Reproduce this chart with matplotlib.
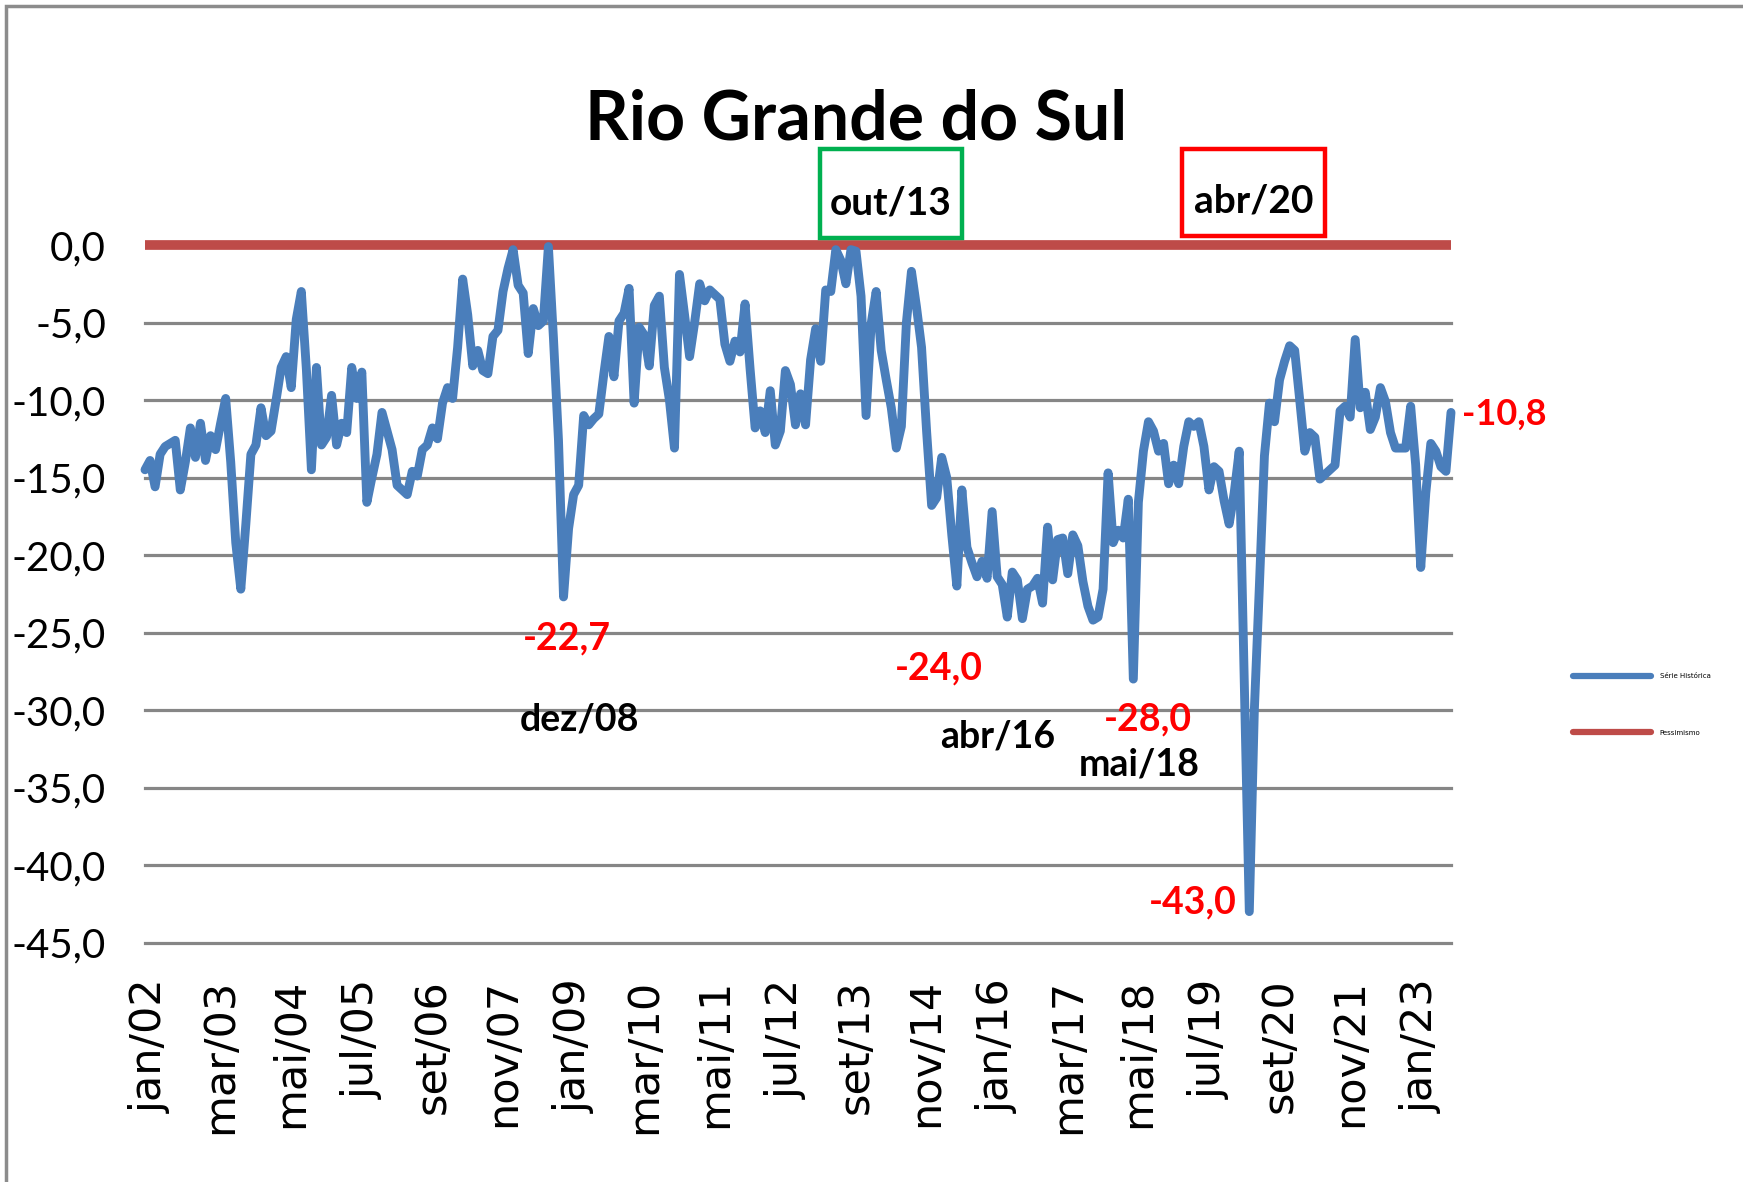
import matplotlib
matplotlib.use("Agg")
import matplotlib.pyplot as plt
import matplotlib.transforms as mtransforms
from matplotlib.patches import Rectangle
from matplotlib.lines import Line2D

# ---------------- data ----------------
serie_historica = [
    -14.5, -13.9, -15.6, -13.5, -13.0, -12.8, -12.6, -15.8, -14.0, -11.8,
    -13.7, -11.5, -13.9, -12.3, -13.2, -11.5, -9.9, -14.0, -19.2, -22.2,
    -18.0, -13.5, -12.9, -10.5, -12.3, -12.0, -10.0, -7.9, -7.2, -9.2,
    -4.8, -3.0, -8.0, -14.5, -7.9, -12.9, -12.4, -9.7, -12.9, -11.5,
    -12.1, -7.9, -9.9, -8.2, -16.6, -15.0, -13.5, -10.8, -12.0, -13.2,
    -15.5, -15.8, -16.1, -14.6, -14.9, -13.2, -12.9, -11.8, -12.5, -10.2,
    -9.2, -9.9, -6.6, -2.2, -4.5, -7.8, -6.8, -8.1, -8.3, -5.9,
    -5.5, -3.0, -1.5, -0.3, -2.6, -3.1, -7.0, -4.1, -5.2, -4.9,
    -0.1, -6.0, -12.6, -22.7, -18.3, -16.1, -15.5, -11.0, -11.6, -11.2,
    -10.9, -8.3, -5.9, -8.5, -4.9, -4.4, -2.8, -10.2, -5.3, -5.8,
    -7.8, -3.9, -3.3, -7.9, -10.0, -13.1, -1.9, -4.5, -7.2, -5.0,
    -2.5, -3.6, -2.9, -3.2, -3.5, -6.4, -7.5, -6.2, -6.9, -3.8,
    -8.0, -11.8, -10.7, -12.1, -9.4, -12.9, -12.0, -8.1, -9.0, -11.6,
    -9.6, -11.6, -7.4, -5.4, -7.5, -2.9, -3.0, -0.3, -1.0, -2.5,
    -0.3, -0.4, -3.3, -11.0, -5.1, -3.0, -6.8, -8.7, -10.5, -13.1,
    -11.7, -5.0, -1.7, -4.0, -6.6, -12.0, -16.8, -16.3, -13.7, -15.0,
    -18.7, -22.0, -15.8, -19.5, -20.5, -21.4, -20.4, -21.5, -17.2, -21.4,
    -21.9, -24.0, -21.1, -21.6, -24.1, -22.2, -22.0, -21.5, -23.1, -18.2,
    -21.6, -19.0, -18.9, -21.2, -18.7, -19.4, -21.7, -23.3, -24.2, -24.0,
    -22.2, -14.7, -19.2, -18.4, -18.9, -16.4, -28.0, -16.6, -13.3, -11.4,
    -12.0, -13.3, -12.8, -15.4, -14.2, -15.4, -13.0, -11.4, -11.7, -11.4,
    -13.0, -15.8, -14.3, -14.6, -16.5, -18.0, -16.0, -13.3, -28.0, -43.0,
    -30.0, -22.0, -13.6, -10.2, -11.4, -8.7, -7.5, -6.5, -6.8, -10.0,
    -13.3, -12.1, -12.4, -15.1, -14.8, -14.5, -14.2, -10.7, -10.4, -11.1,
    -6.1, -10.5, -9.5, -11.9, -11.1, -9.2, -10.1, -12.1, -13.1, -13.1,
    -13.1, -10.4, -14.2, -20.8, -16.0, -12.8, -13.3, -14.3, -14.6, -10.8,
]
pessimismo = [0.0] * len(serie_historica)

tick_labels = ["jan/02", "mar/03", "mai/04", "jul/05", "set/06", "nov/07",
               "jan/09", "mar/10", "mai/11", "jul/12", "set/13", "nov/14",
               "jan/16", "mar/17", "mai/18", "jul/19", "set/20", "nov/21",
               "jan/23"]
tick_step = 14
y_ticks = [0, -5, -10, -15, -20, -25, -30, -35, -40, -45]

# annotations: (text, month index, value at baseline, colour, size)
notes = [("-22,7", 83.7, -26.1, "#FF0000", 27),
         ("dez/08", 86.1, -31.3, "black", 27),
         ("-24,0", 157.4, -28.0, "#FF0000", 27),
         ("abr/16", 169.1, -32.4, "black", 27),
         ("-28,0", 198.9, -31.3, "#FF0000", 27),
         ("mai/18", 197.1, -34.2, "black", 27),
         ("-43,0", 207.8, -43.1, "#FF0000", 27),
         ("-10,8", 269.5, -11.6, "#FF0000", 26)]

FONT = ["Lato", "DejaVu Sans"]

# ---------------- figure ----------------
fig = plt.figure(figsize=(17.43, 11.82), dpi=100)
fig.patch.set_facecolor("white")

ax = fig.add_axes([145 / 1743, 1 - 942.6 / 1182, (1451 - 145) / 1743, (942.6 - 245) / 1182])
ax.set_facecolor("white")

x = list(range(len(serie_historica)))
ax.set_xlim(0, len(serie_historica) - 1)
ax.set_ylim(-45, 0)

for yv in y_ticks[1:]:
    ax.axhline(yv, color="#868686", lw=2.3, zorder=1, clip_on=False)

ax.plot(x, pessimismo, color="#BE4B48", lw=7.0, solid_capstyle="butt", zorder=2,
        clip_on=False, label="Pessimismo")
ax.plot(x, serie_historica, color="#4A7EBB", lw=6.4, solid_joinstyle="round",
        solid_capstyle="round", zorder=3, clip_on=False, label="Série Histórica")

for s in ax.spines.values():
    s.set_visible(False)

ax.set_yticks(y_ticks)
ax.set_yticklabels([f"{v:.1f}".replace(".", ",") for v in y_ticks],
                   fontfamily=FONT, fontsize=29)
ax.tick_params(axis="y", length=0, pad=28)

ax.set_xticks([i * tick_step for i in range(len(tick_labels))])
ax.set_xticklabels(tick_labels, rotation=90, fontfamily="DejaVu Sans", fontsize=31)
ax.tick_params(axis="x", length=0, pad=26)
shift = mtransforms.ScaledTranslation(5 / 100, 0, fig.dpi_scale_trans)
for lab in ax.get_xticklabels():
    lab.set_transform(lab.get_transform() + shift)

for txt, xi, yv, col, fs in notes:
    ax.text(xi, yv, txt, color=col, fontsize=fs, fontweight="bold",
            fontfamily=FONT, ha="center", va="baseline", clip_on=False)

# title
fig.text(856 / 1743, 1 - 139 / 1182, "Rio Grande do Sul", fontsize=49,
         fontweight="bold", fontfamily=FONT, ha="center", va="baseline")

# boxed labels
for (x0, y0, w, h, col, txt, base) in [(820, 149, 142, 89, "#00B050", "out/13", 215),
                                       (1182, 149, 143, 87, "#FF0000", "abr/20", 213)]:
    fig.patches.append(Rectangle((x0 / 1743, 1 - (y0 + h) / 1182), w / 1743, h / 1182,
                                 transform=fig.transFigure, fill=False,
                                 edgecolor=col, lw=3.2, zorder=5))
    fig.text((x0 + w / 2) / 1743, 1 - base / 1182, txt, fontsize=28,
             fontweight="bold", fontfamily=FONT, ha="center", va="baseline")

# legend
handles = [Line2D([], [], color="#4A7EBB", lw=4.5, solid_capstyle="round"),
           Line2D([], [], color="#BE4B48", lw=4.5, solid_capstyle="round")]
fig.legend(handles, ["Série Histórica", "Pessimismo"], loc="upper left",
           bbox_to_anchor=(1573 / 1743, 1 - 673 / 1182), frameon=False,
           fontsize=5, handlelength=11.3, labelspacing=7.3, borderpad=0,
           borderaxespad=0, handletextpad=1.2)

# outer frame
fig.patches.append(Rectangle((6 / 1743, -0.05), 1.1, 1 - 6 / 1182 + 0.05,
                             transform=fig.transFigure, fill=False,
                             edgecolor="#8C8C8C", lw=2.5, zorder=0))

fig.savefig("out.png", dpi=100)
